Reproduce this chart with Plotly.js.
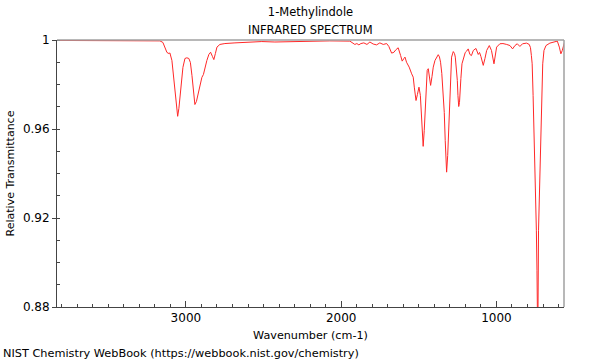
<!DOCTYPE html>
<html>
<head>
<meta charset="utf-8">
<script src="https://cdn.plot.ly/plotly-3.0.1.min.js"></script>
<style>html,body{margin:0;padding:0;background:#fff;}#chart{width:600px;height:360px;}</style>
</head>
<body>
<div id="chart"></div>
<script>
const compoundName = "1-Methylindole";
const subtitle = "INFRARED SPECTRUM";
const xLabel = "Wavenumber (cm-1)";
const yLabel = "Relative Transmittance";
const footer = "NIST Chemistry WebBook (https://webbook.nist.gov/chemistry)";

const wavenumber = [
 3829,3600,3400,3250,3167,3148,3135,3122,3109,3103,3090,3077,3064,3053,3045,3032,3019,3006,
 2994,2981,2971,2961,2952,2942,2932,2920,2910,2897,2887,2878,2865,2852,2841,2829,2820,2810,2800,
 2781,2749,2684,2588,2511,2427,2330,2201,2073,1944,1931,1912,1899,1886,1873,1854,1834,1815,1794,
 1772,1751,1729,1707,1693,1675,1660,1648,1633,1617,1607,1596,1589,1579,1562,1546,1536,1529,1518,
 1509,1499,1490,1480,1472,1465,1457,1446,1439,1431,1424,1415,1407,1396,1385,1375,1367,1360,1352,
 1343,1336,1330,1321,1314,1308,1300,1293,1289,1278,1270,1265,1259,1252,1248,1243,1238,1235,1229,
 1222,1209,1201,1192,1182,1171,1161,1149,1132,1117,1109,1100,1085,1074,1063,1046,1032,1016,1006,
 999,978,958,934,913,896,881,866,849,832,806,789,781,775,770,764,758,751,743,739,734,729,721,713,
 707,702,694,681,656,623,608,595,585,576,570,562
];
const transmittance = [
 0.9998,0.9998,0.9999,0.9998,0.9996,0.9989,0.9966,0.9944,0.9939,0.9942,0.9908,0.9827,0.9728,0.9657,0.9693,0.9796,0.9877,0.9917,
 0.9920,0.9917,0.9899,0.9841,0.9764,0.9710,0.9724,0.9764,0.9800,0.9832,0.9845,0.9872,0.9908,0.9935,0.9945,0.9926,0.9912,0.9939,0.9968,
 0.9980,0.9984,0.9987,0.9991,0.9993,0.9991,0.9993,0.9993,0.9996,0.9995,0.9989,0.9980,0.9984,0.9978,0.9984,0.9987,0.9980,0.9991,0.9982,
 0.9978,0.9987,0.9980,0.9984,0.9971,0.9941,0.9945,0.9956,0.9965,0.9930,0.9905,0.9917,0.9923,0.9900,0.9878,0.9848,0.9833,0.9788,0.9728,
 0.9755,0.9788,0.9751,0.9616,0.9522,0.9594,0.9706,0.9863,0.9871,0.9836,0.9796,0.9836,0.9878,0.9908,0.9923,0.9934,0.9924,0.9900,0.9850,
 0.9773,0.9674,0.9549,0.9406,0.9481,0.9594,0.9773,0.9881,0.9923,0.9948,0.9939,0.9923,0.9881,0.9818,0.9751,0.9701,0.9719,0.9743,0.9827,
 0.9893,0.9930,0.9944,0.9950,0.9960,0.9935,0.9930,0.9953,0.9962,0.9935,0.9944,0.9926,0.9886,0.9917,0.9953,0.9975,0.9953,0.9893,0.9930,
 0.9968,0.9983,0.9984,0.9980,0.9975,0.9960,0.9975,0.9983,0.9971,0.9983,0.9986,0.9980,0.9966,0.9930,0.9893,0.9751,0.9594,0.9369,0.9145,0.8965,0.8620,0.9145,0.9369,0.9594,
 0.9773,0.9893,0.9953,0.9975,0.9986,0.9990,0.9995,0.9968,0.9938,0.9953,0.9968,0.9989
];

const xRange = [3830, 565];
const yRange = [0.88, 1.0];

const fam = "DejaVu Sans, sans-serif";
const font = {family: fam, size: 12, color: "#000"};
const titleFont = {family: fam, size: 11.5, color: "#000"};

const trace = {
  x: wavenumber, y: transmittance, type: "scatter", mode: "lines",
  line: {color: "rgb(255,40,40)", width: 1}, hoverinfo: "skip"
};

const layout = {
  width: 600, height: 360,
  margin: {l: 57, r: 36, t: 40, b: 53, pad: 0},
  paper_bgcolor: "#fff", plot_bgcolor: "#fff",
  font: font,
  showlegend: false,
  title: {text: compoundName, font: titleFont, x: 0.5175, xanchor: "center", y: 0.967, yanchor: "middle", yref: "container"},
  xaxis: {
    range: xRange, autorange: false,
    showgrid: false, zeroline: false,
    showline: true, linecolor: "#444", linewidth: 1,
    ticks: "inside", ticklen: 6, tickcolor: "#444", tickwidth: 1,
    tick0: 0, dtick: 1000, tickfont: font,
    minor: {ticks: "inside", ticklen: 3, dtick: 100, tick0: 0, tickcolor: "#444", showgrid: false},
    title: {text: xLabel, font: {family: fam, size: 11.2, color: "#000"}, standoff: 6}
  },
  yaxis: {
    range: yRange, autorange: false,
    showgrid: false, zeroline: false,
    showline: true, linecolor: "#444", linewidth: 1,
    ticks: "outside", ticklen: 4, tickcolor: "#444", tickwidth: 1,
    tick0: 0.88, dtick: 0.04, tickfont: font,
    minor: {ticks: "inside", ticklen: 3, dtick: 0.01, tick0: 0.88, tickcolor: "#444", showgrid: false},
    title: {text: yLabel, font: {family: fam, size: 11, color: "#000"}, standoff: 6}
  },
  shapes: [
    {type: "line", xref: "paper", yref: "paper", x0: 0, x1: 1, y0: 1, y1: 1, line: {color: "#a0a0a0", width: 1.5}},
    {type: "line", xref: "paper", yref: "paper", x0: 1, x1: 1, y0: 0, y1: 1, line: {color: "#a0a0a0", width: 1.5}}
  ],
  annotations: [
    {text: subtitle, xref: "paper", yref: "paper", x: 0.5, y: 1, yshift: 10, xanchor: "center", yanchor: "middle", showarrow: false, font: titleFont},
    {text: footer, xref: "paper", yref: "paper", x: -0.111, y: 0, yshift: -46, xanchor: "left", yanchor: "middle", showarrow: false, font: {family: fam, size: 11.3, color: "#000"}}
  ]
};

Plotly.newPlot("chart", [trace], layout, {staticPlot: true, displayModeBar: false});
</script>
</body>
</html>
